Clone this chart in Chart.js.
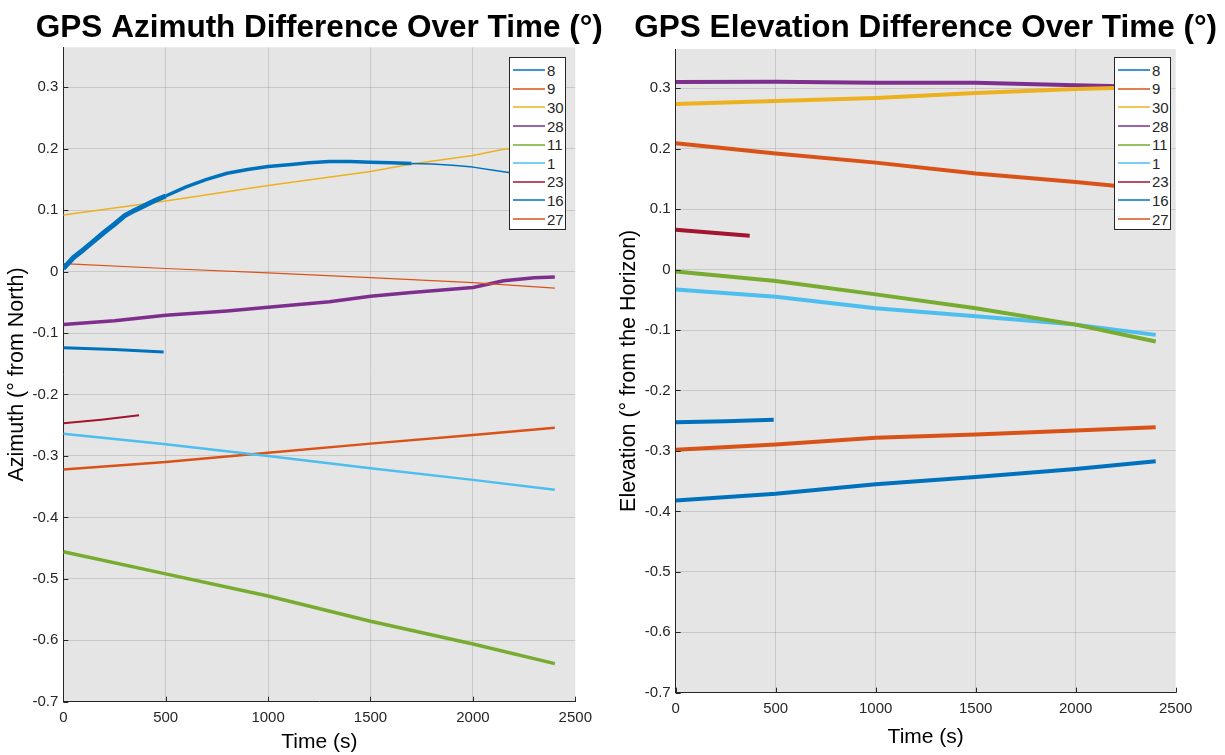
<!DOCTYPE html>
<html lang="en">
<head>
<meta charset="UTF-8">
<title>GPS Azimuth / Elevation Difference Over Time</title>
<script src="https://cdn.jsdelivr.net/npm/chart.js"></script>
<style>
  body {
    margin: 0;
    background: #fff;
    overflow: hidden;
    width: 1225px;
    height: 755px;
    position: relative;
    font-family: 'Liberation Sans', Arial, sans-serif;
  }
  canvas { position: absolute; top: 0; }
  #azChart { left: 0; }
  #elChart { left: 612px; }
  .legend {
    position: absolute;
    top: 57px;
    width: 55px;
    padding-top: 3px;
    padding-bottom: 1px;
    background: #fff;
    border: 1px solid #262626;
    font-size: 15px;
    color: #262626;
  }
  .legend div { height: 18.6px; display: flex; align-items: center; }
  .legend .swatch {
    display: inline-block;
    width: 32px;
    height: 0;
    border-top: 2px solid;
    margin: 0 2px 0 3px;
    opacity: 0.75;
  }
  #azLegend { left: 509px; }
  #elLegend { left: 1114px; }
</style>
</head>
<body>
  <canvas id="azChart" width="638" height="755"></canvas>
  <canvas id="elChart" width="628" height="755"></canvas>
  <div id="azLegend" class="legend"></div>
  <div id="elLegend" class="legend"></div>

<script>
// satellites, in legend order
const satIds = ['8', '9', '30', '28', '11', '1', '23', '16', '27'];
const satColors = ['#0072BD', '#D95319', '#EDB120', '#7E2F8E', '#77AC30', '#4DBEEE', '#A2142F', '#0072BD', '#D95319'];

const xTicks = [0, 500, 1000, 1500, 2000, 2500];
const yTicks = [-0.7, -0.6, -0.5, -0.4, -0.3, -0.2, -0.1, 0, 0.1, 0.2, 0.3];

// time samples (s)
const tFull = [0, 500, 1000, 1500, 2000, 2400];
const tShort23 = [0, 185, 370];
const tShort16 = [0, 250, 490];

// ---- azimuth difference (deg) ----
const azT8 = [0, 50, 100, 150, 200, 250, 300, 350, 400, 450, 500, 600, 700, 800, 900, 1000, 1100, 1200, 1300, 1400, 1500, 1600, 1700, 1800, 1900, 2000, 2100, 2200, 2300, 2400];
const azV8 = [0.005, 0.023, 0.036, 0.05, 0.064, 0.077, 0.091, 0.1, 0.108, 0.116, 0.123, 0.138, 0.15, 0.16, 0.166, 0.171, 0.174, 0.177, 0.179, 0.179, 0.178, 0.177, 0.176, 0.175, 0.173, 0.17, 0.165, 0.16, 0.157, 0.154];
const azV9 = [0.013, 0.005, -0.002, -0.01, -0.018, -0.027];
const azT30 = [0, 500, 1000, 1500, 1700, 2000, 2150, 2400];
const azV30 = [0.092, 0.115, 0.14, 0.163, 0.175, 0.189, 0.199, 0.205];
const azT28 = [0, 250, 500, 800, 1000, 1300, 1500, 1700, 2000, 2150, 2300, 2400];
const azV28 = [-0.086, -0.08, -0.071, -0.064, -0.058, -0.049, -0.04, -0.034, -0.026, -0.015, -0.01, -0.009];
const azV11 = [-0.456, -0.492, -0.528, -0.569, -0.606, -0.638];
const azV1 = [-0.264, -0.281, -0.3, -0.32, -0.339, -0.355];
const azV23 = [-0.247, -0.241, -0.234];
const azV16 = [-0.124, -0.127, -0.131];
const azV27 = [-0.322, -0.31, -0.295, -0.28, -0.266, -0.254];

// ---- elevation difference (deg) ----
const elV8 = [-0.382, -0.371, -0.355, -0.343, -0.33, -0.317];
const elV9 = [0.209, 0.192, 0.177, 0.159, 0.145, 0.132];
const elV30 = [0.274, 0.279, 0.284, 0.292, 0.299, 0.302];
const elV28 = [0.3105, 0.311, 0.309, 0.309, 0.305, 0.302];
const elV11 = [-0.003, -0.019, -0.041, -0.064, -0.091, -0.119];
const elV1 = [-0.033, -0.045, -0.064, -0.077, -0.091, -0.108];
const elV23 = [0.066, 0.061, 0.056];
const elV16 = [-0.2525, -0.251, -0.2486];
const elV27 = [-0.298, -0.2895, -0.278, -0.273, -0.266, -0.261];

const FONT = "'Liberation Sans', Arial, sans-serif";
const INK = '#262626';

function pts(times, vals) {
  return times.map((t, i) => ({ x: t, y: vals[i] }));
}

function makeDatasets(series, widths) {
  return series.map((s, i) => ({
    label: satIds[i],
    data: pts(s[0], s[1]),
    borderColor: satColors[i],
    borderWidth: widths[i],
    pointRadius: 0,
    tension: 0,
    borderJoinStyle: 'round',
    fill: false
  }));
}

const plotBg = {
  id: 'plotBg',
  beforeDraw(chart) {
    const { ctx, chartArea: a } = chart;
    ctx.save();
    ctx.fillStyle = '#e5e5e5';
    ctx.fillRect(a.left, a.top, a.right - a.left, a.bottom - a.top);
    ctx.restore();
  }
};

// small inward tick marks like MATLAB
const innerTicks = {
  id: 'innerTicks',
  afterDatasetsDraw(chart) {
    const { ctx, chartArea: a, scales } = chart;
    ctx.save();
    ctx.strokeStyle = INK;
    ctx.lineWidth = 1;
    ctx.beginPath();
    yTicks.forEach(v => {
      const y = Math.round(scales.y.getPixelForValue(v)) + 0.5;
      ctx.moveTo(a.left, y); ctx.lineTo(a.left + 5, y);
    });
    xTicks.forEach(v => {
      const x = Math.round(scales.x.getPixelForValue(v)) + 0.5;
      ctx.moveTo(x, a.bottom); ctx.lineTo(x, a.bottom - 5);
    });
    ctx.stroke();
    ctx.restore();
  }
};

// title centred over the plot box, not squeezed to it
const plotTitle = {
  id: 'plotTitle',
  afterDraw(chart, args, opts) {
    const { ctx, chartArea: a } = chart;
    ctx.save();
    ctx.font = 'bold ' + opts.size + 'px ' + FONT;
    ctx.fillStyle = '#000';
    ctx.textAlign = 'center';
    ctx.textBaseline = 'alphabetic';
    ctx.fillText(opts.text, (a.left + a.right) / 2, opts.y);
    ctx.restore();
  }
};

function makeOptions(cfg) {
  return {
    responsive: false,
    animation: false,
    layout: { padding: cfg.padding },
    plugins: {
      legend: { display: false },
      tooltip: { enabled: false },
      title: { display: false },
      plotTitle: { text: cfg.title, size: 31.5, y: cfg.titleY }
    },
    scales: {
      x: {
        type: 'linear',
        min: 0,
        max: 2500,
        afterBuildTicks: s => { s.ticks = xTicks.map(v => ({ value: v })); },
        afterFit: s => { s.height = cfg.xHeight; },
        ticks: {
          color: INK,
          font: { family: FONT, size: 15 },
          padding: 7,
          maxRotation: 0,
          callback: v => String(v)
        },
        grid: {
          drawTicks: false,
          color: c => (c.tick && c.tick.value === 2500) ? 'rgba(0,0,0,0)' : 'rgba(0,0,0,0.12)'
        },
        border: { color: INK, width: 1 },
        title: { display: true, text: 'Time (s)', color: '#000', font: { family: FONT, size: 21 }, padding: 0 }
      },
      y: {
        min: -0.7,
        max: 0.365,
        afterBuildTicks: s => { s.ticks = yTicks.map(v => ({ value: v })); },
        afterFit: s => { s.width = cfg.yWidth; },
        ticks: {
          color: INK,
          font: { family: FONT, size: 15 },
          padding: 5,
          callback: v => Math.abs(v) < 1e-9 ? '0' : String(+v.toFixed(1))
        },
        grid: { drawTicks: false, color: 'rgba(0,0,0,0.12)' },
        border: { color: INK, width: 1 },
        title: { display: true, text: cfg.yTitle, color: '#000', font: { family: FONT, size: 21.5 }, padding: 0 }
      }
    }
  };
}

// azimuth chart
const azDatasets = makeDatasets([
  [azT8, azV8], [tFull, azV9], [azT30, azV30], [azT28, azV28], [tFull, azV11],
  [tFull, azV1], [tShort23, azV23], [tShort16, azV16], [tFull, azV27]
], [3.5, 1.2, 1.5, 3.5, 3.5, 2.5, 2, 3, 2.5]);
// satellite 8 is noisy early on, quieter later
azDatasets[0].segment = {
  borderWidth: c => c.p0.parsed.x < 500 ? 5 : (c.p0.parsed.x < 1670 ? 3.5 : 1.5)
};

const azChart = new Chart(document.getElementById('azChart'), {
  type: 'line',
  data: { datasets: azDatasets },
  options: makeOptions({
    title: 'GPS Azimuth Difference Over Time (°)',
    titleY: 37,
    yTitle: 'Azimuth (° from North)',
    padding: { left: 4, right: 62.7, top: 47.3, bottom: 0 },
    yWidth: 59.3,
    xHeight: 53.3
  }),
  plugins: [plotBg, innerTicks, plotTitle]
});

// elevation chart
const elDatasets = makeDatasets([
  [tFull, elV8], [tFull, elV9], [tFull, elV30], [tFull, elV28], [tFull, elV11],
  [tFull, elV1], [tShort23, elV23], [tShort16, elV16], [tFull, elV27]
], [4, 4, 4, 4, 4, 4, 4, 4, 4]);

const elChart = new Chart(document.getElementById('elChart'), {
  type: 'line',
  data: { datasets: elDatasets },
  options: makeOptions({
    title: 'GPS Elevation Difference Over Time (°)',
    titleY: 37,
    yTitle: 'Elevation (° from the Horizon)',
    padding: { left: 4, right: 64.3, top: 49, bottom: 5 },
    yWidth: 59.7,
    xHeight: 57.3
  }),
  plugins: [plotBg, innerTicks, plotTitle]
});

// legend boxes drawn over the plot, as in the original
function buildLegend(id, chart) {
  const box = document.getElementById(id);
  chart.data.datasets.forEach(ds => {
    const row = document.createElement('div');
    const sw = document.createElement('span');
    sw.className = 'swatch';
    sw.style.borderTopColor = ds.borderColor;
    row.appendChild(sw);
    row.appendChild(document.createTextNode(ds.label));
    box.appendChild(row);
  });
}
buildLegend('azLegend', azChart);
buildLegend('elLegend', elChart);
</script>
</body>
</html>
